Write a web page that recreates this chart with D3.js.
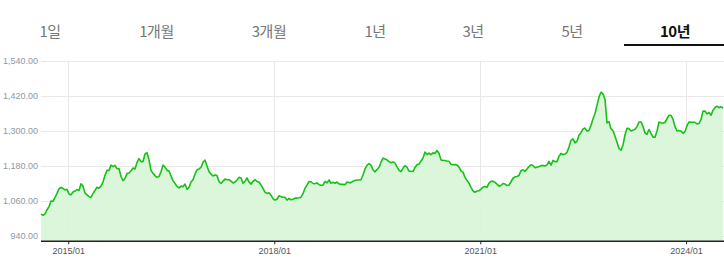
<!DOCTYPE html>
<html>
<head>
<meta charset="utf-8">
<script src="https://cdn.jsdelivr.net/npm/d3@7"></script>
<style>
  html, body { margin: 0; padding: 0; background: #fff; }
  svg { display: block; }
</style>
</head>
<body>
<svg id="chart" width="724" height="263"></svg>
<script>
// ---- data ----
const tabs = ["1일", "1개월", "3개월", "1년", "3년", "5년", "10년"];
const activeTab = "10년";
const yTickValues = [940, 1060, 1180, 1300, 1420, 1540];
const xTickLabels = ["2015/01", "2018/01", "2021/01", "2024/01"];
const startDate = "2014-08-09";
const stepDays = 10.64;
const values = [
1015,1011,1016,1030,1040,1060,1059,1072,1086,1102,1107,1103,1098,1100,1084,1081,1091,1094,1099,1096,
1119,1111,1087,1081,1075,1072,1086,1096,1107,1104,1111,1125,1148,1165,1165,1183,1178,1182,1171,1171,
1144,1130,1137,1154,1156,1164,1173,1170,1192,1205,1195,1195,1221,1226,1201,1165,1155,1147,1141,1144,
1160,1183,1176,1165,1163,1146,1130,1120,1110,1105,1111,1109,1118,1100,1107,1125,1133,1152,1167,1170,
1175,1193,1200,1180,1161,1152,1146,1149,1147,1127,1120,1128,1135,1133,1133,1128,1122,1125,1132,1141,
1139,1121,1127,1139,1125,1118,1127,1133,1127,1125,1115,1103,1090,1086,1088,1080,1068,1063,1066,1078,
1075,1073,1073,1063,1069,1064,1066,1070,1070,1071,1073,1085,1104,1114,1127,1126,1120,1119,1122,1116,
1114,1114,1127,1122,1132,1121,1124,1121,1125,1119,1117,1117,1116,1125,1123,1123,1128,1130,1132,1132,
1133,1149,1170,1182,1188,1183,1167,1160,1168,1175,1193,1207,1204,1201,1195,1191,1194,1190,1177,1165,
1161,1173,1181,1176,1162,1162,1161,1175,1184,1187,1197,1207,1228,1219,1224,1219,1225,1223,1233,1224,
1201,1199,1199,1197,1196,1186,1184,1185,1183,1176,1163,1159,1141,1130,1121,1107,1095,1090,1094,1095,
1101,1108,1110,1107,1121,1127,1128,1124,1118,1111,1113,1120,1118,1113,1115,1126,1138,1143,1144,1148,
1164,1167,1162,1170,1178,1184,1182,1174,1176,1178,1181,1182,1180,1184,1196,1183,1199,1195,1195,1213,
1223,1219,1221,1227,1245,1268,1273,1259,1265,1286,1294,1307,1310,1300,1302,1320,1341,1360,1388,1417,
1433,1427,1409,1328,1332,1308,1301,1282,1261,1240,1234,1252,1287,1309,1308,1300,1303,1306,1315,1331,
1331,1316,1293,1289,1305,1292,1279,1279,1299,1331,1328,1326,1330,1342,1354,1354,1340,1315,1300,1302,
1300,1292,1298,1318,1331,1330,1330,1330,1324,1326,1339,1368,1368,1359,1364,1354,1371,1380,1385,1380,
1383,1379
];

// ---- layout ----
const W = 724, H = 263;
const plot = { left: 41, right: 724, top: 61, bottom: 241.3 };
const tabCenters = [50, 156.5, 269, 375, 473, 572, 675];

const parse = d3.timeParse("%Y-%m-%d");
const t0 = parse(startDate).getTime();
const data = values.map((v, i) => ({ date: new Date(t0 + i * stepDays * 864e5), value: v }));

const svg = d3.select("#chart");

// tabs
const tabG = svg.append("g");
tabs.forEach((t, i) => {
  const active = t === activeTab;
  tabG.append("text")
    .attr("x", tabCenters[i])
    .attr("y", 30)
    .attr("text-anchor", "middle")
    .attr("dominant-baseline", "central")
    .style("font-family", "'Noto Sans CJK KR', 'Noto Sans', sans-serif")
    .style("font-size", "15px")
    .style("font-weight", active ? "700" : "400")
    .style("letter-spacing", "-0.5px")
    .style("fill", active ? "#111" : "#777")
    .text(t);
});
tabG.append("rect")
  .attr("x", 624).attr("y", 44).attr("width", 100).attr("height", 2)
  .attr("fill", "#111");

// scales
const x = d3.scaleTime()
  .domain(d3.extent(data, d => d.date))
  .range([plot.left, plot.right - 1]);
const y = d3.scaleLinear()
  .domain([921.8, 1540])
  .range([plot.bottom, plot.top]);

const xTickDates = xTickLabels.map(s => d3.timeParse("%Y/%m")(s));

// gridlines
svg.append("g")
  .selectAll("line.h")
  .data(yTickValues)
  .join("line")
  .attr("x1", plot.left).attr("x2", plot.right)
  .attr("y1", d => Math.round(y(d)) + 0.5).attr("y2", d => Math.round(y(d)) + 0.5)
  .attr("stroke", "#e8e8e8").attr("stroke-width", 1);
svg.append("g")
  .selectAll("line.v")
  .data(xTickDates)
  .join("line")
  .attr("x1", d => Math.round(x(d)) + 0.5).attr("x2", d => Math.round(x(d)) + 0.5)
  .attr("y1", plot.top).attr("y2", plot.bottom)
  .attr("stroke", "#e8e8e8").attr("stroke-width", 1);

// area + line
const area = d3.area()
  .x(d => x(d.date))
  .y0(plot.bottom)
  .y1(d => y(d.value));
svg.append("path")
  .datum(data)
  .attr("d", area)
  .attr("fill", "#d8f5d8")
  .attr("fill-opacity", 0.9);

const line = d3.line()
  .x(d => x(d.date))
  .y(d => y(d.value));
svg.append("path")
  .datum(data)
  .attr("d", line)
  .attr("fill", "none")
  .attr("stroke", "#14c214")
  .attr("stroke-width", 1.6)
  .attr("stroke-linejoin", "round");

// y axis labels
const yAxis = d3.axisLeft(y)
  .tickValues(yTickValues)
  .tickFormat(d3.format(",.2f"))
  .tickSize(0)
  .tickPadding(3);
const gy = svg.append("g")
  .attr("transform", `translate(${plot.left},0)`)
  .call(yAxis);
gy.select(".domain").remove();
gy.selectAll("text")
  .style("font-family", "'Liberation Sans', Arial, sans-serif")
  .style("font-size", "9px")
  .style("fill", "#8f98a3");

// x axis
const xAxis = d3.axisBottom(x)
  .tickValues(xTickDates)
  .tickFormat(d3.timeFormat("%Y/%m"))
  .tickSize(3)
  .tickSizeOuter(0)
  .tickPadding(3);
const gx = svg.append("g")
  .attr("transform", `translate(0,${plot.bottom})`)
  .call(xAxis);
gx.select(".domain")
  .attr("d", `M${plot.left},0H${plot.right}`)
  .attr("stroke", "#222")
  .attr("stroke-width", 1.6);
gx.selectAll(".tick line").attr("stroke", "#222");
gx.selectAll("text")
  .style("font-family", "'Liberation Sans', Arial, sans-serif")
  .style("font-size", "9px")
  .style("fill", "#555");
</script>
</body>
</html>
